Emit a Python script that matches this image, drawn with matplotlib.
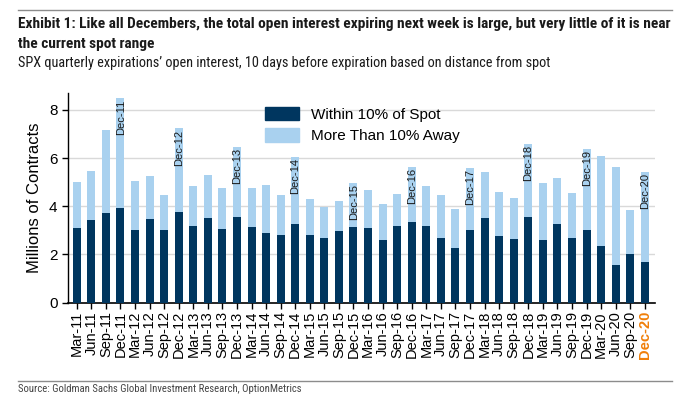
import matplotlib
matplotlib.use("Agg")
import matplotlib.pyplot as plt
from matplotlib import font_manager as fm
from matplotlib.patches import Patch
import numpy as np

# quarterly expirations, Mar-11 .. Dec-20
years = [str(y) for y in range(11, 21)]
labels = [m + "-" + y for y in years for m in ["Mar", "Jun", "Sep", "Dec"]]

# millions of contracts
within = [3.10, 3.43, 3.72, 3.93, 3.02, 3.49, 3.02, 3.76,
          3.18, 3.53, 3.06, 3.55, 3.14, 2.89, 2.81, 3.26,
          2.81, 2.68, 2.97, 3.14, 3.10, 2.60, 3.18, 3.35,
          3.18, 2.68, 2.27, 3.02, 3.51, 2.77, 2.64, 3.55,
          2.60, 3.26, 2.68, 3.02, 2.35, 1.56, 2.02, 1.69]
total = [5.01, 5.46, 7.16, 8.49, 5.05, 5.26, 4.47, 7.23,
         4.84, 5.28, 4.76, 6.46, 4.76, 4.88, 4.47, 6.06,
         4.30, 3.98, 4.22, 4.97, 4.67, 4.09, 4.51, 5.63,
         4.84, 4.47, 3.89, 5.59, 5.42, 4.59, 4.34, 6.58,
         4.97, 5.17, 4.55, 6.38, 6.09, 5.63, 3.85, 5.42]
away = [t - w for t, w in zip(total, within)]

dark = "#00365f"
light = "#a9d1ef"
plt.rcParams["font.family"] = ["Liberation Sans", "DejaVu Sans"]

# header text is a condensed face in the original; use one if the system has it
head_kw = {"family": ["Liberation Sans", "DejaVu Sans"]}
names = {f.name for f in fm.fontManager.ttflist}
condensed = {f.name for f in fm.fontManager.ttflist if str(f.stretch) in ("condensed", "semi-condensed", "extra-condensed")}
for cand in ["Liberation Sans Narrow", "Roboto Condensed", "Open Sans Condensed", "Noto Sans Condensed"]:
    if cand in names:
        head_kw = {"family": [cand, "DejaVu Sans"]}
        break
else:
    for cand in ["Noto Sans", "Open Sans", "Roboto", "DejaVu Sans"]:
        if cand in condensed:
            head_kw = {"family": [cand, "DejaVu Sans"], "fontstretch": "condensed"}
            break

fig = plt.figure(figsize=(7, 3.95), dpi=100)
ax = fig.add_axes([68 / 700, 1 - 302.7 / 395, 587 / 700, (302.7 - 93) / 395])

x = np.arange(len(labels))
ax.bar(x, within, width=0.55, color=dark, zorder=3)
ax.bar(x, away, width=0.55, bottom=within, color=light, zorder=3)

# Dec labels inside the top of the December bars
for i, lab in enumerate(labels):
    if lab.startswith("Dec"):
        ax.text(i + 0.02, total[i] - 0.05, lab, rotation=90, ha="center", va="top",
                fontsize=8, color="#1a1a1a", zorder=4)

ax.set_xlim(-0.6, 39.7)
ax.set_ylim(0, 8.7)
ax.set_yticks([0, 2, 4, 6, 8])
ax.set_xticks(x)
ax.set_xticklabels(labels, rotation=90, fontsize=10.5)
ticks = ax.get_xticklabels()
ticks[-1].set_color("#f07f09")
ticks[-1].set_fontweight("bold")
ax.tick_params(axis="y", labelsize=11, length=4, width=1)
ax.tick_params(axis="x", length=4, width=1, pad=2)
ax.set_ylabel("Millions of Contracts", fontsize=12, labelpad=5)
ax.grid(axis="y", color="#d9d9d9", linewidth=1, zorder=0)
for s in ["top", "right"]:
    ax.spines[s].set_visible(False)
ax.spines["left"].set_linewidth(1)
ax.spines["bottom"].set_linewidth(1.2)

handles = [Patch(color=dark, label="Within 10% of Spot"),
           Patch(color=light, label="More Than 10% Away")]
ax.legend(handles=handles, loc="upper left", bbox_to_anchor=(0.312, 1.0), frameon=False,
          fontsize=11, handlelength=2.2, handleheight=1.0, labelspacing=0.4, handletextpad=0.8)

# header and footer
fig.add_artist(plt.Line2D([18 / 700, 672 / 700], [1 - 10 / 395] * 2, color="#8c8c8c", lw=1))
renderer = fig.canvas.get_renderer()


def fit_text(ypix, s, width_px, size, va="center", **kw):
    t = fig.text(18 / 700, 1 - ypix / 395, s, fontsize=size, va=va, color="#1a1a1a", **head_kw, **kw)
    w = t.get_window_extent(renderer).width
    if w > width_px:
        t.set_fontsize(size * width_px / w)
    return t


title1 = "Exhibit 1: Like all Decembers, the total open interest expiring next week is large, but very little of it is near"
t1 = fit_text(24, title1, 654, 12, fontweight="bold")
fig.text(18 / 700, 1 - 44 / 395, "the current spot range", fontsize=t1.get_fontsize(),
         fontweight="bold", va="center", color="#1a1a1a", **head_kw)
fit_text(63, "SPX quarterly expirations\u2019 open interest, 10 days before expiration based on distance from spot",
         535, 11)
fig.add_artist(plt.Line2D([18 / 700, 672 / 700], [1 - 381 / 395] * 2, color="#8c8c8c", lw=1))
t_src = fit_text(394, "Source: Goldman Sachs Global Investment Research, OptionMetrics", 284, 9.5, va="bottom")
t_src.set_color("#444444")

fig.savefig("out.png", dpi=100)
